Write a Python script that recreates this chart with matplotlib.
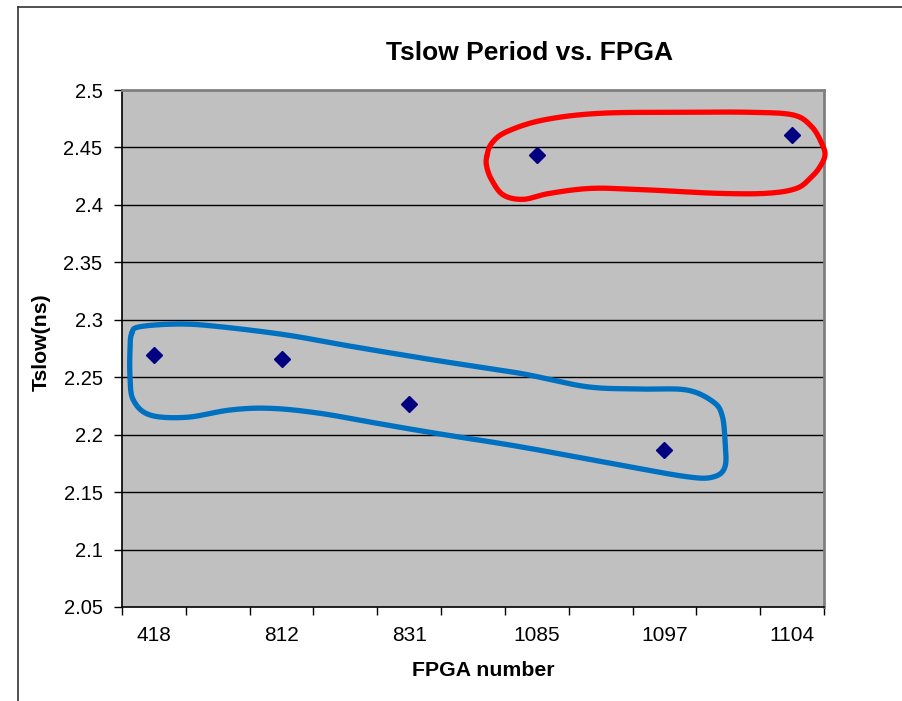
import numpy as np
import matplotlib
matplotlib.use("Agg")
import matplotlib.pyplot as plt
from matplotlib.lines import Line2D

# ---- data ----
categories = ["418", "812", "831", "1085", "1097", "1104"]
tslow = [2.269, 2.266, 2.227, 2.443, 2.187, 2.461]
y_ticks = [2.05, 2.1, 2.15, 2.2, 2.25, 2.3, 2.35, 2.4, 2.45, 2.5]
y_tick_labels = ["2.05", "2.1", "2.15", "2.2", "2.25", "2.3", "2.35", "2.4", "2.45", "2.5"]

# annotation loops (pixel coords in the original picture, converted to axes fraction)
red_loop_px = [(486.7,156.7),(491.7,143.3),(506.7,131.7),(543.3,120),(600,113.3),(683.3,112.3),
               (750,112.3),(793.3,115),(811.7,126.7),(821.7,143.3),(825,155),(820,166.7),
               (811.7,176.7),(796.7,188.3),(766.7,193.3),(716.7,193.3),(650,190),(593.3,188.3),
               (550,193.3),(523.3,199.3),(503.3,195),(491.7,180),(486.7,166.7)]
blue_loop_px = [(131.7,333.3),(140,326.7),(180,324),(220,326.7),(286.7,335),(353.3,346.7),
                (440,361),(520,373.3),(586.7,386.7),(640,389),(686.7,390),(713,401.7),
                (722,415),(725,440),(725,466.7),(713,477),(686.7,476.7),(620,465),
                (520,446.7),(440,434),(386.7,425),(320,413.3),(270,408.3),(230,410),
                (186.7,417.3),(150,415),(133.3,400),(130,376.7),(130,350)]

W, H = 903, 701
AX_L, AX_R, AX_T, AX_B = 122, 824, 90, 607

def to_axes(pts):
    a = np.array(pts, dtype=float)
    fx = (a[:, 0] - AX_L) / (AX_R - AX_L)
    fy = (AX_B - a[:, 1]) / (AX_B - AX_T)
    return np.column_stack([fx, fy])

def closed_catmull(pts, n=20):
    P = np.asarray(pts)
    m = len(P)
    out = []
    for i in range(m):
        p0, p1, p2, p3 = P[(i-1) % m], P[i], P[(i+1) % m], P[(i+2) % m]
        t = np.linspace(0, 1, n, endpoint=False)[:, None]
        seg = 0.5 * ((2*p1) + (-p0 + p2)*t + (2*p0 - 5*p1 + 4*p2 - p3)*t**2 + (-p0 + 3*p1 - 3*p2 + p3)*t**3)
        out.append(seg)
    out.append(P[:1])
    return np.vstack(out)

plt.rcParams['font.family'] = ['Liberation Sans', 'DejaVu Sans']

fig = plt.figure(figsize=(W/100, H/100), dpi=100)
fig.patch.set_facecolor("white")
ax = fig.add_axes([AX_L/W, 1 - AX_B/H, (AX_R-AX_L)/W, (AX_B-AX_T)/H])
ax.set_facecolor("#C0C0C0")

n_slots = 2*len(categories) - 1
xpos = np.arange(len(categories)) * 2
ax.set_xlim(-0.5, n_slots - 0.5)
ax.set_ylim(2.05, 2.5)

for y in y_ticks[1:-1]:
    ax.axhline(y, color="black", lw=1.0, zorder=1)

ax.plot(xpos, tslow, linestyle="none", marker="D", ms=8.5, color="#000080", zorder=3)

# loops
for pts, col in [(red_loop_px, "#FF0000"), (blue_loop_px, "#0070C0")]:
    c = closed_catmull(to_axes(pts))
    ax.plot(c[:, 0], c[:, 1], color=col, lw=3.8, transform=ax.transAxes,
            solid_capstyle="round", solid_joinstyle="round", zorder=4, clip_on=False)

ax.set_yticks(y_ticks)
ax.set_yticklabels(y_tick_labels)
ax.set_xticks(xpos)
ax.set_xticklabels(categories)
ax.set_xticks(np.arange(n_slots + 1) - 0.5, minor=True)
ax.tick_params(axis="x", which="major", length=0, pad=14, labelsize=15)
ax.tick_params(axis="x", which="minor", length=6, direction="out", width=1, color="black")
ax.tick_params(axis="y", length=6, direction="out", width=1, color="black", pad=8, labelsize=14.5)

for s in ["top", "right"]:
    ax.spines[s].set_color("#808080")
    ax.spines[s].set_linewidth(2)
for s in ["left", "bottom"]:
    ax.spines[s].set_color("black")
    ax.spines[s].set_linewidth(1.2)

fig.text(529/W, 1 - 53/H, "Tslow Period vs. FPGA", ha="center", va="center",
         fontsize=19, fontweight="bold")
fig.text(483/W, 1 - 670/H, "FPGA number", ha="center", va="center",
         fontsize=15.3, fontweight="bold")
fig.text(41/W, 1 - 342/H, "Tslow(ns)", ha="center", va="center", rotation=90,
         fontsize=15.3, fontweight="bold")

# outer chart frame (cut off at right and bottom)
fx0 = 18/W
fy0 = 1 - 7/H
fig.add_artist(Line2D([fx0, fx0], [-0.05, fy0], color="#333333", lw=1.2, transform=fig.transFigure))
fig.add_artist(Line2D([fx0, 1.05], [fy0, fy0], color="#333333", lw=1.2, transform=fig.transFigure))

fig.savefig("out.png", dpi=100)
